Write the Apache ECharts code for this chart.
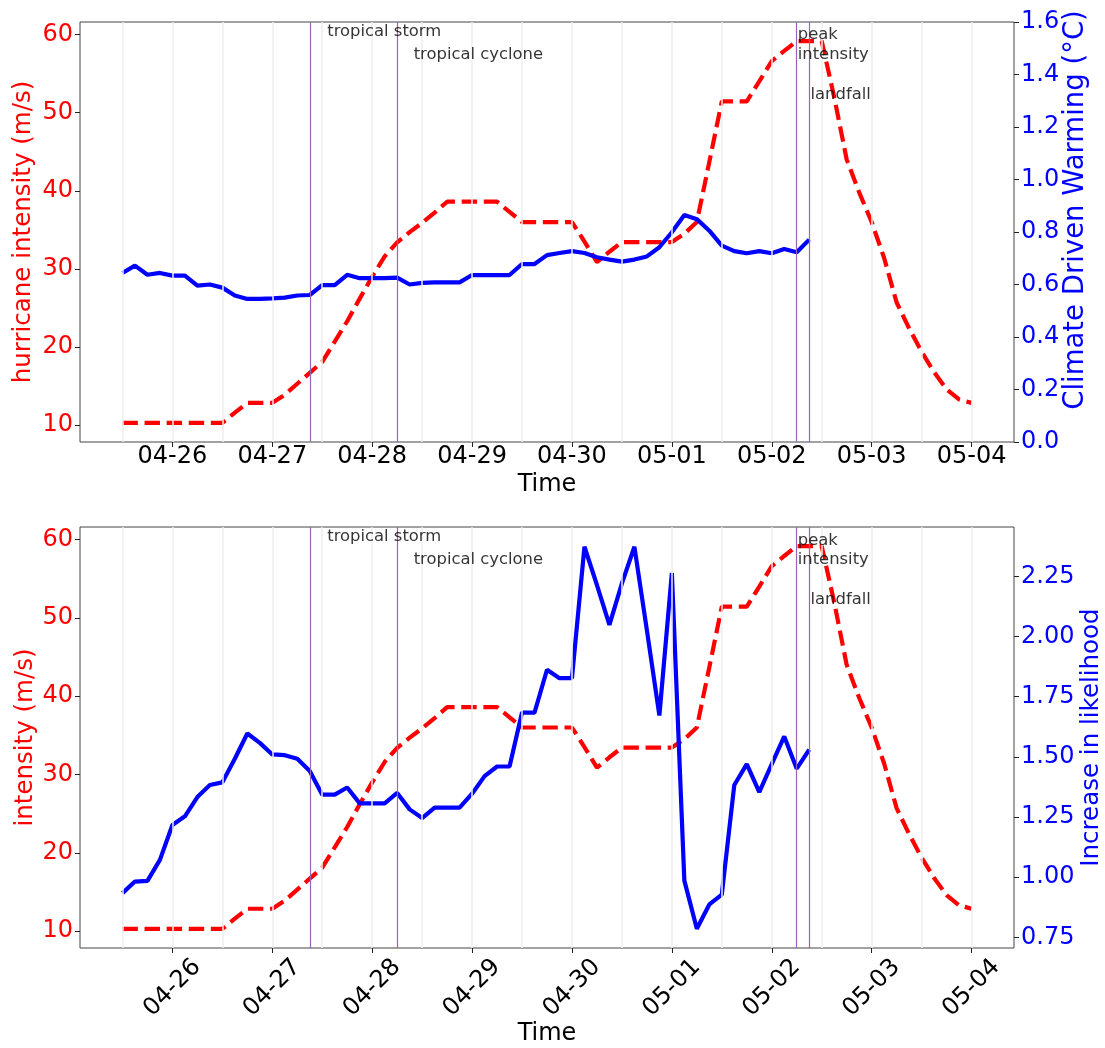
<!DOCTYPE html>
<html><head><meta charset="utf-8">
<script src="https://cdn.jsdelivr.net/npm/echarts@6/dist/echarts.min.js"></script>
<style>html,body{margin:0;padding:0;background:#fff}#c{width:1105px;height:1048px}</style>
</head><body><div id="c"></div>
<script>
// ---- data (3-hourly) ----
const times = [
 "04-25 12:00","04-25 15:00","04-25 18:00","04-25 21:00",
 "04-26 00:00","04-26 03:00","04-26 06:00","04-26 09:00","04-26 12:00","04-26 15:00","04-26 18:00","04-26 21:00",
 "04-27 00:00","04-27 03:00","04-27 06:00","04-27 09:00","04-27 12:00","04-27 15:00","04-27 18:00","04-27 21:00",
 "04-28 00:00","04-28 03:00","04-28 06:00","04-28 09:00","04-28 12:00","04-28 15:00","04-28 18:00","04-28 21:00",
 "04-29 00:00","04-29 03:00","04-29 06:00","04-29 09:00","04-29 12:00","04-29 15:00","04-29 18:00","04-29 21:00",
 "04-30 00:00","04-30 03:00","04-30 06:00","04-30 09:00","04-30 12:00","04-30 15:00","04-30 18:00","04-30 21:00",
 "05-01 00:00","05-01 03:00","05-01 06:00","05-01 09:00","05-01 12:00","05-01 15:00","05-01 18:00","05-01 21:00",
 "05-02 00:00","05-02 03:00","05-02 06:00","05-02 09:00","05-02 12:00","05-02 15:00","05-02 18:00","05-02 21:00",
 "05-03 00:00","05-03 03:00","05-03 06:00","05-03 09:00","05-03 12:00","05-03 15:00","05-03 18:00","05-03 21:00",
 "05-04 00:00"
];
const intensity = [
 10.29,10.29,10.29,10.29,
 10.29,10.29,10.29,10.29,10.29,11.6,12.86,12.86,
 12.86,13.9,15.3,16.7,18.1,20.7,23.3,26.2,
 29.0,31.6,33.4,34.7,35.9,37.2,38.6,38.6,
 38.6,38.6,38.6,37.3,36.0,36.0,36.0,36.0,
 36.0,33.5,30.87,32.2,33.44,33.44,33.44,33.44,
 33.44,34.5,36.0,43.7,51.44,51.44,51.44,54.0,
 56.6,57.9,59.16,59.16,59.16,52.0,44.0,39.8,
 36.0,31.4,25.7,22.4,19.4,16.8,14.6,13.3,
 12.86
];
const warming = [
 0.644,0.672,0.637,0.644,
 0.634,0.634,0.596,0.600,0.588,0.558,0.545,0.545,
 0.547,0.550,0.558,0.560,0.598,0.598,0.637,0.624,
 0.624,0.624,0.626,0.600,0.606,0.608,0.608,0.608,
 0.636,0.636,0.636,0.636,0.678,0.678,0.712,0.720,
 0.727,0.720,0.704,0.695,0.687,0.695,0.707,0.742,
 0.799,0.865,0.849,0.805,0.748,0.727,0.719,0.727,
 0.719,0.735,0.723,0.771
];
const likelihood = [
 0.934,0.982,0.985,1.072,
 1.217,1.253,1.333,1.383,1.394,1.492,1.597,1.558,
 1.510,1.507,1.492,1.441,1.343,1.343,1.373,1.307,
 1.307,1.307,1.350,1.282,1.246,1.289,1.289,1.289,
 1.347,1.420,1.460,1.460,1.684,1.684,1.862,1.827,
 1.827,2.373,2.214,2.048,2.221,2.373,2.026,1.672,
 2.264,0.986,0.786,0.887,0.928,1.383,1.470,1.354,
 1.470,1.585,1.451,1.530
];
const tickLabels = ["04-26","04-27","04-28","04-29","04-30","05-01","05-02","05-03","05-04"];
const intensityTicks = [10,20,30,40,50,60];
const warmingTicks = [0,0.2,0.4,0.6,0.8,1.0,1.2,1.4,1.6];
const likelihoodTicks = [0.75,1.00,1.25,1.50,1.75,2.00,2.25];
const eventNames = ["tropical storm","tropical cyclone","peak\nintensity","landfall"];
const eventTimes = ["04-27 09:00","04-28 06:00","05-02 06:00","05-02 09:00"];

// ---- helpers ----
function toHours(s){
  const m=+s.slice(0,2), d=+s.slice(3,5), hh=s.length>5?+s.slice(6,8):0;
  const day = m===4 ? d-25 : d+5;
  return day*24+hh;
}
const hrs = times.map(toHours);
const tickHours = tickLabels.map(toHours);
const labelOf = {}; tickLabels.forEach((t,i)=>labelOf[tickHours[i]]=t);
const span = hrs[hrs.length-1]-hrs[0];
const xMin = hrs[0]-0.05*span, xMax = hrs[hrs.length-1]+0.05*span;
const gridHours = []; for(let h=hrs[0]; h<=hrs[hrs.length-1]; h+=12) gridHours.push(h);

const FONT = 'DejaVu Sans';
const labelY = [60.35, 57.44, 58.67, 52.32];   // text anchor heights (left-axis units)
const labelDx = [17, 16, 0.5, 0.8];

function xAxisCfg(gi, rotated){
  return {
    type:'value', gridIndex:gi, min:xMin, max:xMax,
    name:'Time', nameLocation:'middle', nameGap: rotated?74:31, nameMoveOverlap:false,
    nameTextStyle:{fontFamily:FONT,fontSize:24,color:'#000'},
    axisLine:{show:false, onZero:false},
    axisTick:{show:true, length:5, inside:false, customValues:tickHours, lineStyle:{color:'#222',width:1}},
    axisLabel: Object.assign({
      customValues:tickHours, fontFamily:FONT, fontSize:24, color:'#000',
      formatter:v=>labelOf[Math.round(v)]||''
    }, rotated ? {rotate:45, align:'center', verticalAlign:'middle', margin:40} : {margin:3}),
    splitLine:{show:false}
  };
}
function yAxisCfg(gi, pos, min, max, ticks, dec, name, color, nameGap, fs, extra){
  return Object.assign({
    type:'value', gridIndex:gi, position:pos, min:min, max:max,
    name:name, nameLocation:'middle', nameGap:nameGap, nameMoveOverlap:false,
    nameTextStyle:{fontFamily:FONT,fontSize:fs,color:color},
    axisLine:{show:false, onZero:false},
    axisTick:{show:true, length:5, inside:false, customValues:ticks, lineStyle:{color:'#222',width:1}},
    axisLabel:{customValues:ticks, fontFamily:FONT, fontSize:24, color:color, margin:7,
      formatter:v=>Number(v).toFixed(dec)},
    splitLine:{show:false}
  }, extra||{});
}

const series = [];
[0,1].forEach(g=>{
  series.push({
    type:'line', xAxisIndex:g, yAxisIndex:g*2, data:[], silent:true, z:1,
    markLine:{
      symbol:['none','none'], silent:true, animation:false, label:{show:false},
      data: gridHours.map(h=>({xAxis:h, lineStyle:{color:'#eeeeee',width:1.5,type:'solid'}}))
        .concat(eventTimes.map(t=>({xAxis:toHours(t), lineStyle:{color:'#9466bb',width:1.2,type:'solid'}})))
    }
  });
  series.push({
    type:'line', xAxisIndex:g, yAxisIndex:g*2, z:3, symbol:'none',
    data: hrs.map((h,i)=>[h,intensity[i]]),
    lineStyle:{color:'#ff0000', width:4.2, type:[15.4,6.7], cap:'butt'}
  });
  series.push({
    type:'line', xAxisIndex:g, yAxisIndex:g*2+1, z:4, symbol:'none',
    data: (g===0?warming:likelihood).map((v,i)=>[hrs[i],v]),
    lineStyle:{color:'#0000ff', width:4.2}
  });
  series.push({
    type:'scatter', xAxisIndex:g, yAxisIndex:g*2, z:5, silent:true,
    symbolSize:1, itemStyle:{color:'rgba(0,0,0,0)'},
    data: eventNames.map((n,i)=>({
      value:[toHours(eventTimes[i]), labelY[i]],
      label:{show:true, position:'right', distance:labelDx[i], formatter:n,
        fontFamily:FONT, fontSize:16.4, lineHeight:19.3, color:'#000', align:'left'}
    }))
  });
});

const chart = echarts.init(document.getElementById('c'), null, {renderer:'canvas'});
chart.setOption({
  animation:false,
  backgroundColor:'#fff',
  grid:[
    {left:80, top:22, width:934, height:420, show:true, borderColor:'#444', borderWidth:1, backgroundColor:'transparent', outerBoundsMode:'none', containLabel:false},
    {left:80, top:527, width:934, height:421, show:true, borderColor:'#444', borderWidth:1, backgroundColor:'transparent', outerBoundsMode:'none', containLabel:false}
  ],
  xAxis:[xAxisCfg(0,false), xAxisCfg(1,true)],
  yAxis:[
    yAxisCfg(0,'left',7.85,61.6,intensityTicks,0,'hurricane intensity (m/s)','#ff0000',44,24.5),
    yAxisCfg(0,'right',0,1.6,warmingTicks,1,'Climate Driven Warming (°C)','#0000ff',48,27.5,
      {nameTextStyle:{fontFamily:FONT,fontSize:27.5,color:'#0000ff',padding:[0,0,0,44]}}),
    yAxisCfg(1,'left',7.85,61.6,intensityTicks,0,'intensity (m/s)','#ff0000',42,24.5),
    yAxisCfg(1,'right',0.706,2.455,likelihoodTicks,2,'Increase in likelihood','#0000ff',65,24.5)
  ],
  series:series
});
</script></body></html>
